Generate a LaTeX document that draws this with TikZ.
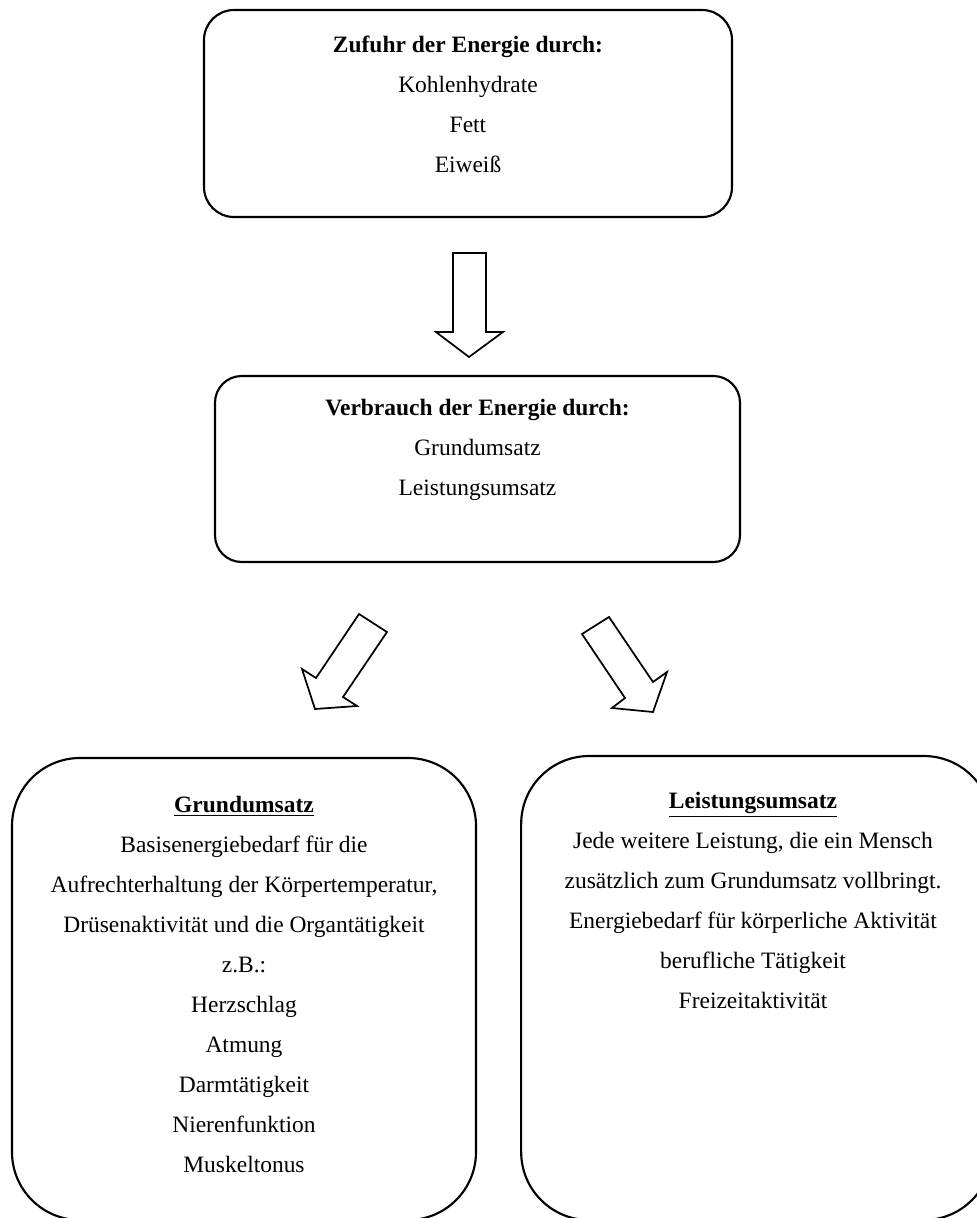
\documentclass[tikz,border=0pt]{standalone}
\usepackage{fontspec}
\setmainfont{Liberation Serif}
\usepackage{tikz}
\tikzset{every picture/.style={line width=0.75pt}}
\tikzset{
  roundbox/.style={draw, line width=1.6pt, rounded corners=#1, inner sep=0pt},
  boxtext/.style={anchor=north, align=center, inner sep=0pt, font=\fontsize{17.6pt}{30pt}\selectfont},
  blockarrow/.style={draw, line width=1.3pt, line join=miter, fill=white}
}

\begin{document}
\begin{tikzpicture}[x=0.75pt,y=0.75pt,yscale=-1,xscale=1]
\useasboundingbox (0,0) rectangle (977,1218);

%Shape: Rounded Rect [id:zufuhr]
\node[roundbox=22.5pt, minimum width=396pt, minimum height=155.25pt] (zufuhrbox) at (468,113.5) {};
%Shape: Rounded Rect [id:verbrauch]
\node[roundbox=20pt, minimum width=393.75pt, minimum height=139.5pt] (verbrauchbox) at (477.5,469) {};
%Shape: Rounded Rect [id:grund]
\node[roundbox=51pt, minimum width=348pt, minimum height=346.5pt] (grundbox) at (244,989) {};
%Shape: Rounded Rect [id:leistung]
\node[roundbox=51pt, minimum width=353pt, minimum height=348pt] (leistungbox) at (756.5,988) {};

%Shape: Down Arrow
\draw[blockarrow] (453,253) -- (486,253) -- (486,332) -- (503,332) -- (469,357) -- (436,332) -- (453,332) -- cycle ;
%Shape: Left Arrow
\draw[blockarrow] (359,614) -- (387,632) -- (343,697) -- (357,706) -- (315,709) -- (302,669) -- (316,678) -- cycle ;
%Shape: Right Arrow
\draw[blockarrow] (609,617) -- (653,682) -- (667,672) -- (653,712) -- (612,708) -- (625,698) -- (582,634) -- cycle ;

% Text Node
\node[boxtext] (zufuhr) at (468,35) {\textbf{Zufuhr der Energie durch:}\\Kohlenhydrate\\Fett\\Eiweiß};
% Text Node
\node[boxtext] (verbrauch) at (477.5,399) {\textbf{Verbrauch der Energie durch:}\\Grundumsatz\\Leistungsumsatz};
% Text Node
\node[boxtext] (grund) at (244,796) {\underline{\textbf{Grundumsatz}}\\Basisenergiebedarf für die\\Aufrechterhaltung der Körpertemperatur,\\Drüsenaktivität und die Organtätigkeit\\z.B.:\\Herzschlag\\Atmung\\Darmtätigkeit\\Nierenfunktion\\Muskeltonus};
% Text Node
\node[boxtext] (leistung) at (753,792) {\underline{\textbf{Leistungsumsatz}}\\Jede weitere Leistung, die ein Mensch\\zusätzlich zum Grundumsatz vollbringt.\\Energiebedarf für körperliche Aktivität\\berufliche Tätigkeit\\Freizeitaktivität};

\end{tikzpicture}
\end{document}
